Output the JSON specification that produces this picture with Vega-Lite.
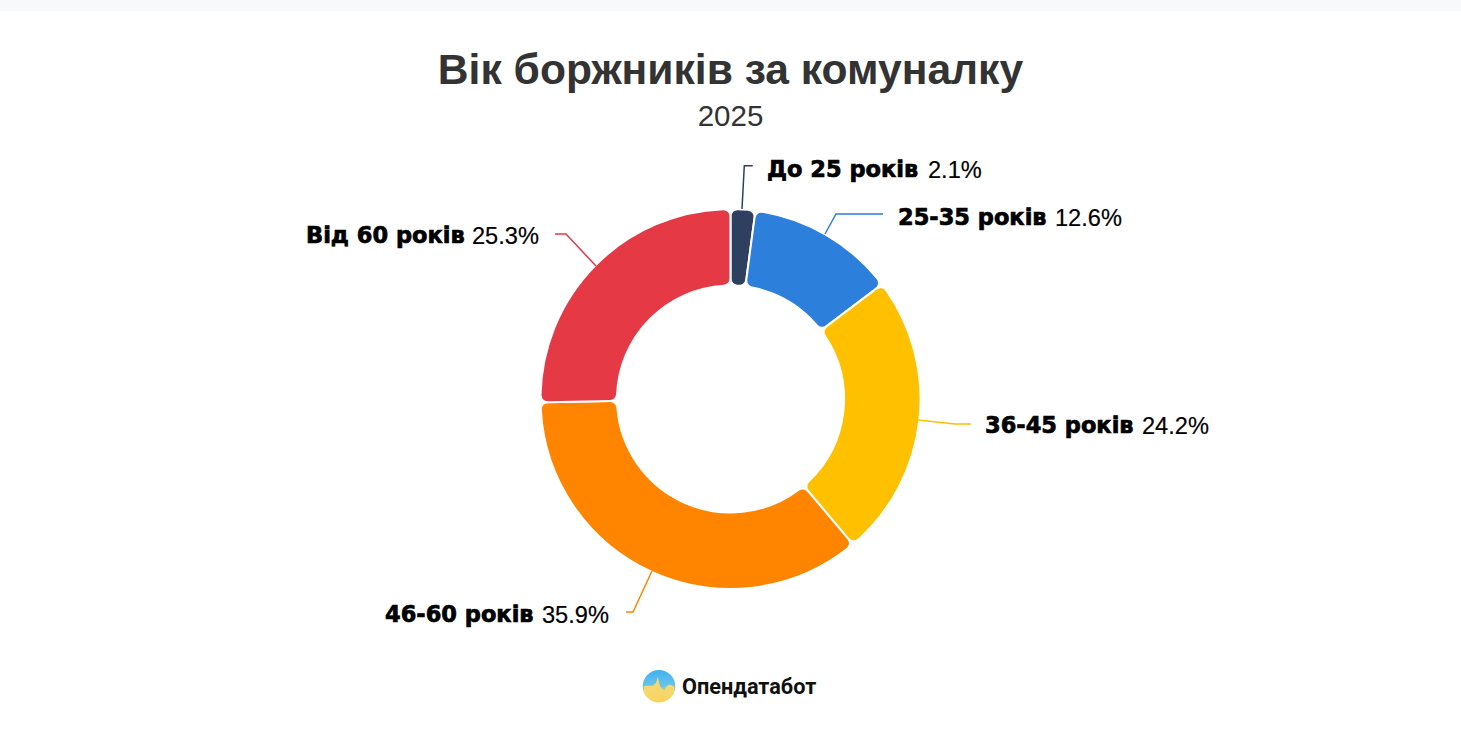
{
 "$schema":"https://vega.github.io/schema/vega-lite/v6.json",
 "width":1461,"height":660,
 "autosize":{"type":"none"},
 "padding":{"left":0,"right":0,"top":69,"bottom":0},
 "background":"#ffffff",
 "view":{"stroke":null},
 "title":{"text":"Вік боржників за комуналку","subtitle":"2025","anchor":"middle","frame":"group","offset":-131,"font":"Liberation Sans","fontSize":42.6,"fontWeight":"bold","color":"#333333","subtitleFont":"Liberation Sans","subtitleFontSize":29.5,"subtitleColor":"#333333","subtitlePadding":9.5},
 "datasets":{
  "slices":[
   {"label":"До 25 років","pct":"2.1%","value":2.1,"order":1},
   {"label":"25-35 років","pct":"12.6%","value":12.6,"order":2},
   {"label":"36-45 років","pct":"24.2%","value":24.2,"order":3},
   {"label":"46-60 років","pct":"35.9%","value":35.9,"order":4},
   {"label":"Від 60 років","pct":"25.3%","value":25.3,"order":5}
  ],
  "leaders":[
   {"label":"До 25 років","a":11.5,"b":190,"o":1},{"label":"До 25 років","a":13.8,"b":233.3,"o":2},{"label":"До 25 років","a":22.2,"b":233.3,"o":3},
   {"label":"25-35 років","a":94.5,"b":165,"o":1},{"label":"25-35 років","a":105.5,"b":185,"o":2},{"label":"25-35 років","a":152.5,"b":185,"o":3},
   {"label":"36-45 років","a":187.5,"b":-21,"o":1},{"label":"36-45 років","a":224.5,"b":-25,"o":2},{"label":"36-45 років","a":240.5,"b":-25,"o":3},
   {"label":"46-60 років","a":-78.5,"b":-172,"o":1},{"label":"46-60 років","a":-97.5,"b":-213,"o":2},{"label":"46-60 років","a":-104.5,"b":-213,"o":3},
   {"label":"Від 60 років","a":-134.5,"b":133,"o":1},{"label":"Від 60 років","a":-164.5,"b":165,"o":2},{"label":"Від 60 років","a":-175.5,"b":165,"o":3}
  ],
  "labels":[
   {"name":"До 25 років","pct":"2.1%","a":36.5,"b":229.5,"pa":197.5},
   {"name":"25-35 років","pct":"12.6%","a":167.5,"b":181.5,"pa":324.5},
   {"name":"36-45 років","pct":"24.2%","a":254.5,"b":-26.5,"pa":411.5},
   {"name":"46-60 років","pct":"35.9%","a":-345.5,"b":-215.5,"pa":-188.5},
   {"name":"Від 60 років","pct":"25.3%","a":-424.5,"b":163.5,"pa":-258.5}
  ]
 },
 "layer":[
  {"data":{"values":[{"a":-730.5,"a2":730.5,"b":399,"b2":388}]},
   "mark":{"type":"rect","fill":"#f8f9fa","clip":false},
   "encoding":{
    "x":{"field":"a","type":"quantitative","scale":{"domain":[-730.5,730.5],"range":[0,1461],"nice":false,"zero":false},"axis":null},
    "x2":{"field":"a2"},
    "y":{"field":"b","type":"quantitative","scale":{"domain":[-330,330],"range":[660,0],"nice":false,"zero":false},"axis":null},
    "y2":{"field":"b2"}}},
  {"data":{"name":"slices"},
   "mark":{"type":"arc","outerRadius":190,"innerRadius":113.5,"cornerRadius":7,"stroke":"#ffffff","strokeWidth":2},
   "encoding":{
    "theta":{"field":"value","type":"quantitative","stack":true,"scale":{"domain":[0,100.1],"range":[0,6.2832]}},
    "order":{"field":"order","type":"quantitative"},
    "color":{"field":"label","type":"nominal","legend":null,"sort":null,
      "scale":{"domain":["До 25 років","25-35 років","36-45 років","46-60 років","Від 60 років"],"range":["#2e3f5f","#2d7fdc","#ffc000","#ff8400","#e63946"]}}}},
  {"data":{"name":"leaders"},
   "mark":{"type":"line","strokeWidth":1.5,"interpolate":"linear"},
   "encoding":{
    "x":{"field":"a","type":"quantitative"},
    "y":{"field":"b","type":"quantitative"},
    "order":{"field":"o","type":"quantitative"},
    "color":{"field":"label","type":"nominal","legend":null}}},
  {"data":{"name":"labels"},
   "mark":{"type":"text","align":"left","baseline":"middle","font":"DejaVu Sans","fontWeight":"bold","fontSize":22.5,"color":"#000000","stroke":"#000000","strokeWidth":0.7},
   "encoding":{
    "x":{"field":"a","type":"quantitative"},
    "y":{"field":"b","type":"quantitative"},
    "text":{"field":"name"}}},
  {"data":{"name":"labels"},
   "mark":{"type":"text","align":"left","baseline":"middle","font":"Liberation Sans","fontSize":23.6,"color":"#000000","dy":1,"stroke":"#000000","strokeWidth":0.2},
   "encoding":{
    "x":{"field":"pa","type":"quantitative"},
    "y":{"field":"b","type":"quantitative"},
    "text":{"field":"pct"}}},
  {"data":{"values":[{"a":-71.5,"b":-287.3}]},
   "mark":{"type":"point","shape":"circle","filled":true,"size":1063,"opacity":1,
     "fill":{"gradient":"linear","x1":0,"y1":0,"x2":0,"y2":1,"stops":[{"offset":0,"color":"#3db2f2"},{"offset":0.5,"color":"#6cc4e8"},{"offset":0.68,"color":"#f5d76e"},{"offset":1,"color":"#fbd35a"}]}},
   "encoding":{"x":{"field":"a","type":"quantitative"},"y":{"field":"b","type":"quantitative"}}},
  {"data":{"values":[
     {"a":-86.5,"b":-287,"b2":-293},{"a":-77.5,"b":-286.5,"b2":-293},{"a":-74.5,"b":-284,"b2":-293},{"a":-72.8,"b":-277.7,"b2":-293},
     {"a":-70.5,"b":-287,"b2":-293},{"a":-68.5,"b":-290,"b2":-293},{"a":-66.2,"b":-291.7,"b2":-293},{"a":-64.5,"b":-288,"b2":-293},
     {"a":-61.5,"b":-285.5,"b2":-293},{"a":-56.5,"b":-287,"b2":-293}]},
   "mark":{"type":"area","color":"#f5d76e"},
   "encoding":{"x":{"field":"a","type":"quantitative"},"y":{"field":"b","type":"quantitative"},"y2":{"field":"b2"}}},
  {"data":{"values":[{"a":-48.5,"b":-288,"t":"Опендатабот"}]},
   "mark":{"type":"text","align":"left","baseline":"middle","font":"Roboto","fontWeight":700,"fontSize":21.7,"color":"#111111"},
   "encoding":{"x":{"field":"a","type":"quantitative"},"y":{"field":"b","type":"quantitative"},"text":{"field":"t"}}}
 ]
}
